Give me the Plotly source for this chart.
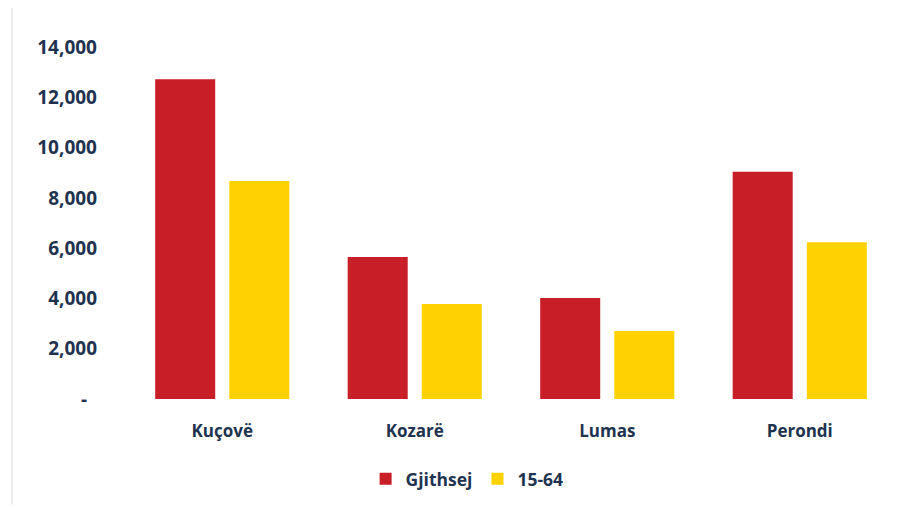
import plotly.graph_objects as go

categories = ["Kuçovë", "Kozarë", "Lumas", "Perondi"]
gjithsej = [12720, 5650, 4020, 9040]
age_15_64 = [8670, 3780, 2700, 6230]
y_ticks = [0, 2000, 4000, 6000, 8000, 10000, 12000, 14000]
y_tick_labels = ["-\u00a0\u00a0", "2,000", "4,000", "6,000", "8,000", "10,000", "12,000", "14,000"]

font_family = "Open Sans, Liberation Sans, sans-serif"
text_color = "#1f3350"

fig = go.Figure()
fig.add_trace(go.Bar(x=categories, y=gjithsej, name="Gjithsej",
                     marker=dict(color="#c81e28", line=dict(width=0))))
fig.add_trace(go.Bar(x=categories, y=age_15_64, name="15-64",
                     marker=dict(color="#ffd200", line=dict(width=0))))

fig.update_layout(
    width=904, height=501,
    margin=dict(l=118, r=16, t=39, b=110, autoexpand=False),
    paper_bgcolor="white", plot_bgcolor="white",
    barmode="group", bargap=0.23, bargroupgap=0.19,
    font=dict(family=font_family, color=text_color, size=16),
    xaxis=dict(showgrid=False, showline=False, ticks="", automargin=False,
               tickfont=dict(size=17, color=text_color, weight="bold"),
               ticklabelstandoff=20),
    yaxis=dict(range=[0, 14000], tickvals=y_ticks, ticktext=y_tick_labels,
               showgrid=False, zeroline=False, showline=False, ticks="", automargin=False,
               tickfont=dict(size=19, color=text_color, weight="bold"),
               ticklabelstandoff=28),
    legend=dict(orientation="h", x=0.443, xanchor="center", y=-0.176, yanchor="top",
                font=dict(size=17.5, color=text_color, weight="bold"),
                itemwidth=30, traceorder="normal"),
    showlegend=True,
)
fig.add_shape(type="line", xref="paper", yref="paper", x0=-0.148, x1=-0.148, y0=-0.3, y1=1.12,
              line=dict(color="#e3e3e3", width=1.5))

fig.write_html("out.html")
